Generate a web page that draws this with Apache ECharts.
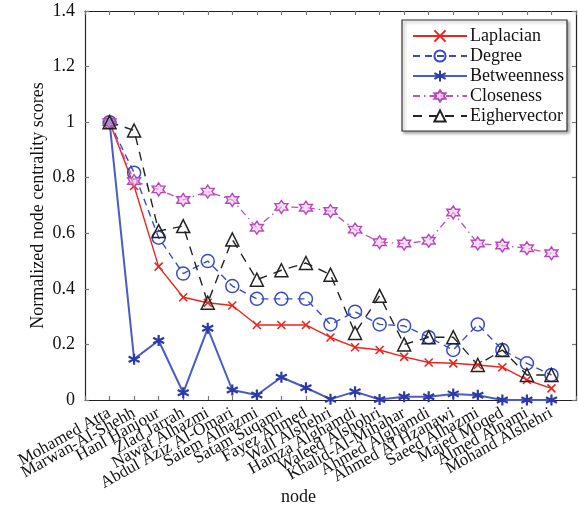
<!DOCTYPE html>
<html>
<head>
<meta charset="utf-8">
<script src="https://cdn.jsdelivr.net/npm/echarts@6/dist/echarts.min.js"></script>
<style>
  html, body { margin: 0; padding: 0; background: #fff; }
  #chart { width: 578px; height: 505px; }
</style>
</head>
<body>
<div id="chart"></div>
<script>
  // node names, in plot order
  const nodes = [
    "Mohamed Atta", "Marwan-Al-Shehh", "Hanl Hanjour", "Zlad Jarrah", "Nawaf Alhazmi",
    "Abdul Aziz Al-Omari", "Saiem Alhazmi", "Satam Suqami", "Fayez Ahmed", "Wall Alshehri",
    "Hamza Alghamdi", "Waleed Alshohri", "Khalid-Al-Mihahar", "Ahmed Alghamdi", "Ahmed Al Hzanawi",
    "Saeed Alhazmi", "Majed Moqed", "Almed Alnami", "Mohand Alshehri"
  ];

  // centrality scores
  const laplacian = [1.0, 0.77, 0.48, 0.37, 0.35, 0.34, 0.27, 0.27, 0.27, 0.225,
    0.19, 0.18, 0.155, 0.135, 0.132, 0.126, 0.118, 0.072, 0.042];
  const degree = [1.0, 0.818, 0.584, 0.455, 0.5, 0.41, 0.364, 0.364, 0.364, 0.272,
    0.318, 0.272, 0.267, 0.226, 0.18, 0.272, 0.18, 0.132, 0.09];
  const betweenness = [1.0, 0.147, 0.214, 0.026, 0.258, 0.036, 0.018, 0.082, 0.044, 0.003,
    0.03, 0.002, 0.012, 0.012, 0.022, 0.017, 0.0, 0.0, 0.0];
  const closeness = [1.0, 0.788, 0.758, 0.72, 0.75, 0.72, 0.62, 0.695, 0.692, 0.68,
    0.613, 0.568, 0.563, 0.573, 0.675, 0.563, 0.556, 0.546, 0.528];
  const eigenvector = [1.0, 0.97, 0.608, 0.626, 0.35, 0.578, 0.433, 0.467, 0.493, 0.451,
    0.241, 0.375, 0.2, 0.226, 0.226, 0.126, 0.18, 0.09, 0.09];

  const yTicks = [0, 0.2, 0.4, 0.6, 0.8, 1, 1.2, 1.4];

  const serif = "Liberation Serif";

  // marker shapes (MATLAB style)
  const xMark = "path://M0,0L10,10M10,0L0,10";
  const asterisk = "path://M5,0L5,10M0.67,2.5L9.33,7.5M0.67,7.5L9.33,2.5";
  const hexagram = "path://M5,0L6.443,2.5L9.33,2.5L7.887,5L9.33,7.5L6.443,7.5L5,10L3.557,7.5L0.67,7.5L2.113,5L0.67,2.5L3.557,2.5Z";

  const toPoints = arr => arr.map((v, i) => [i + 1, v]);

  const chart = echarts.init(document.getElementById("chart"));

  const axisCommon = {
    axisLine: { show: true, onZero: false, lineStyle: { color: "#222", width: 1.2 } },
    axisTick: { show: true, inside: true, length: 4, lineStyle: { color: "#777", width: 1.2 } },
    splitLine: { show: false }
  };

  const option = {
    backgroundColor: "#fff",
    animation: false,
    grid: { left: 85, right: 2, top: 11, bottom: 105, containLabel: false, outerBoundsMode: "none" },
    legend: {
      orient: "vertical",
      left: 402,
      top: 20,
      padding: [7, 3, 6, 10],
      itemWidth: 54,
      itemHeight: 14,
      itemGap: 2,
      backgroundColor: "#fff",
      borderColor: "#333",
      borderWidth: 1.2,
      shadowColor: "rgba(0,0,0,0.35)",
      shadowBlur: 3,
      shadowOffsetX: 2,
      shadowOffsetY: 2,
      textStyle: { fontFamily: serif, fontSize: 18, color: "#111", padding: [0, 0, 0, -2] },
      data: ["Laplacian", "Degree", "Betweenness", "Closeness", "Eighervector"]
    },
    xAxis: [
      Object.assign({}, axisCommon, {
        type: "value",
        min: 0,
        max: 20,
        interval: 1,
        name: "node",
        nameLocation: "middle",
        nameGap: 88,
        nameMoveOverlap: false,
        nameTextStyle: { fontFamily: serif, fontSize: 18, color: "#111", padding: [0, 64, 0, 0] },
        axisLabel: {
          rotate: 29,
          margin: 12,
          fontFamily: serif,
          fontSize: 17,
          color: "#111",
          formatter: v => nodes[v - 1] || ""
        }
      }),
      Object.assign({}, axisCommon, {
        type: "value",
        position: "top",
        min: 0,
        max: 20,
        interval: 1,
        axisLabel: { show: false }
      })
    ],
    yAxis: [
      Object.assign({}, axisCommon, {
        type: "value",
        min: yTicks[0],
        max: yTicks[yTicks.length - 1],
        interval: 0.2,
        name: "Normalized node centrality scores",
        nameLocation: "middle",
        nameGap: 38,
        nameMoveOverlap: false,
        nameTextStyle: { fontFamily: serif, fontSize: 18, color: "#111" },
        axisLabel: {
          margin: 10,
          fontFamily: serif,
          fontSize: 18,
          color: "#111",
          formatter: v => String(Math.round(v * 10) / 10)
        }
      }),
      Object.assign({}, axisCommon, {
        type: "value",
        position: "right",
        min: yTicks[0],
        max: yTicks[yTicks.length - 1],
        interval: 0.2,
        axisLabel: { show: false }
      })
    ],
    series: [
      {
        name: "Laplacian",
        type: "line",
        data: toPoints(laplacian),
        symbol: xMark,
        symbolSize: 8,
        lineStyle: { color: "#e8261e", width: 1.4 },
        itemStyle: { color: "#e8261e", borderColor: "#e8261e", borderWidth: 1.6 }
      },
      {
        name: "Degree",
        type: "line",
        data: toPoints(degree),
        symbol: "circle",
        symbolSize: 13,
        lineStyle: { color: "#3a4cc4", width: 1.4, type: [7, 5] },
        itemStyle: { color: "rgba(255,255,255,0)", borderColor: "#3a4cc4", borderWidth: 1.5 }
      },
      {
        name: "Betweenness",
        type: "line",
        data: toPoints(betweenness),
        symbol: asterisk,
        symbolSize: 11,
        lineStyle: { color: "#4a5cc8", width: 2 },
        itemStyle: { color: "#2b3aa8", borderColor: "#2b3aa8", borderWidth: 2.2 }
      },
      {
        name: "Closeness",
        type: "line",
        data: toPoints(closeness),
        symbol: hexagram,
        symbolSize: 13,
        lineStyle: { color: "#c24fc2", width: 1.3, type: [7, 4, 1.5, 4] },
        itemStyle: { color: "rgba(240,200,240,0.6)", borderColor: "#b848b8", borderWidth: 1.4 }
      },
      {
        name: "Eighervector",
        type: "line",
        data: toPoints(eigenvector),
        symbol: "triangle",
        symbolSize: 13,
        lineStyle: { color: "#222", width: 1.4, type: [9, 7] },
        itemStyle: { color: "rgba(255,255,255,0)", borderColor: "#222", borderWidth: 1.5 }
      }
    ]
  };

  chart.setOption(option);

  window.addEventListener("resize", () => {
    chart.resize();
  });
</script>
</body>
</html>
